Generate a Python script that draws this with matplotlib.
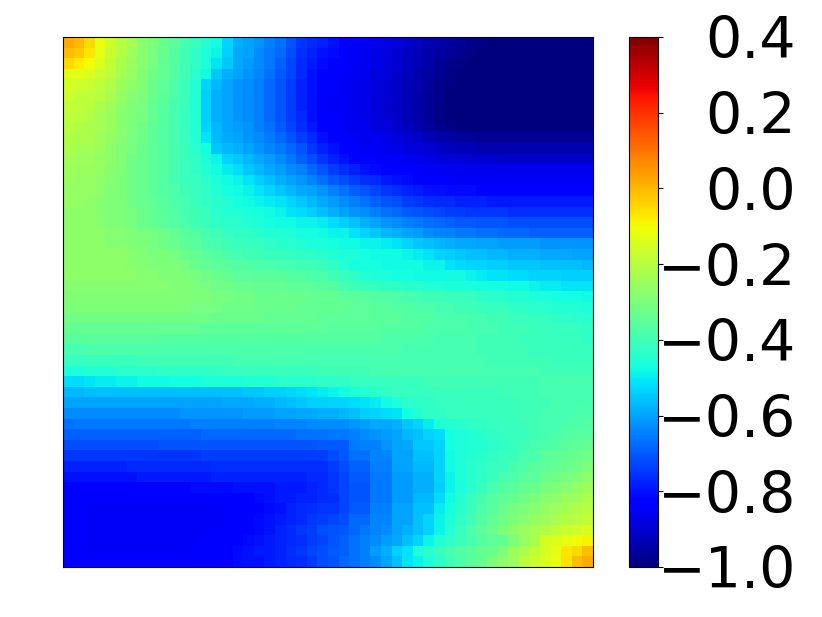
# heatmap with jet colorbar, 50x50 cells
import matplotlib
matplotlib.use("Agg")
import matplotlib.pyplot as plt
import numpy as np

# cell values, in hundredths, sign flipped (85 means -0.85)
cells = """
-2 0 5 11 16 20 23 27 30 33 36 39 42 45 48 53 58 60 62 65 67 71 75 77 78 80 82 84 85 86 87 89 90 92 94 95 96 97 98 99 100 100 100 100 100 100 100 100 100 100
1 3 7 12 17 21 24 28 31 33 37 40 43 46 49 54 59 60 63 66 68 72 76 78 80 81 83 85 86 87 88 90 91 93 95 96 97 98 99 100 100 100 100 100 100 100 100 100 100 100
5 8 10 14 18 22 25 28 31 34 37 40 43 46 51 55 59 61 63 66 69 73 77 79 81 83 84 85 86 87 89 90 92 93 95 97 98 99 100 100 100 100 100 100 100 100 100 100 100 100
13 13 14 17 19 23 26 29 32 34 37 40 44 48 55 58 60 62 64 67 70 73 77 80 82 84 85 85 86 88 89 91 92 94 96 97 99 100 100 100 100 100 100 100 100 100 100 100 100 100
15 16 17 19 21 25 27 29 33 35 38 41 45 53 57 60 62 63 65 68 71 74 78 80 83 84 85 86 87 88 90 91 93 94 96 98 99 100 100 100 100 100 100 100 100 100 100 100 100 100
16 18 19 20 22 26 28 30 33 36 38 41 45 54 58 60 62 63 65 68 71 74 78 80 83 85 85 86 87 88 90 91 93 95 97 98 100 100 100 100 100 100 100 100 100 100 100 100 100 100
18 19 20 22 24 27 29 31 34 36 39 42 45 54 58 60 62 63 65 68 71 74 78 80 83 85 85 86 87 89 90 92 93 95 97 99 100 100 100 100 100 100 100 100 100 100 100 100 100 100
19 20 21 23 25 28 30 31 34 37 39 42 45 54 58 60 62 63 65 68 71 74 77 80 83 84 85 86 87 88 90 91 93 95 97 99 100 100 100 100 100 100 100 100 100 100 100 100 100 100
20 21 22 23 25 28 30 32 35 37 39 42 45 53 57 60 61 62 65 67 70 73 76 79 82 84 85 86 86 88 89 91 92 94 96 98 99 100 100 100 100 100 100 100 100 100 100 100 100 100
21 22 22 24 26 28 31 32 35 37 39 42 45 51 57 59 60 62 63 66 68 71 74 77 80 83 84 85 86 86 87 88 90 91 93 94 95 96 96 97 97 97 97 97 97 97 97 97 97 97
22 23 23 25 27 29 31 33 35 37 39 41 44 47 55 57 58 60 62 64 66 68 71 75 78 80 83 84 85 85 86 87 88 89 90 91 92 93 93 94 94 94 94 94 94 94 94 94 94 94
23 24 24 26 27 29 32 33 35 37 39 41 43 46 49 53 55 57 59 61 63 66 69 72 75 78 80 82 83 84 85 85 86 86 87 88 89 89 90 90 90 91 91 91 91 91 91 91 91 91
24 25 25 26 28 29 32 33 35 37 39 41 43 45 48 50 52 55 57 59 61 63 65 68 71 74 76 78 80 81 82 83 84 84 85 85 86 86 86 86 86 86 86 86 86 86 86 86 86 86
25 26 26 27 28 30 32 33 35 37 39 41 42 44 46 48 49 51 54 56 58 60 62 64 67 70 72 74 76 77 79 80 81 82 83 84 84 85 85 85 85 85 85 85 85 85 85 85 85 85
26 26 26 27 29 30 32 33 35 37 38 40 42 43 45 47 48 49 51 53 55 57 59 60 62 65 67 69 71 73 75 76 78 79 80 80 81 81 81 82 82 82 82 82 82 82 82 82 82 82
26 26 27 28 29 30 32 33 34 36 38 39 41 43 44 45 47 48 49 50 51 53 55 57 59 61 63 65 67 69 71 72 74 75 76 77 77 78 78 78 79 79 79 79 79 79 79 79 79 79
27 27 27 28 29 30 31 33 34 36 37 39 40 42 44 45 45 46 47 48 49 51 52 54 56 58 60 62 63 65 67 68 70 71 72 73 74 74 75 75 75 75 76 76 76 76 76 76 76 76
27 27 27 28 29 30 31 33 34 35 37 38 40 41 43 44 44 45 46 47 48 48 49 49 50 52 54 56 58 60 62 63 65 66 67 68 69 70 70 71 71 71 72 72 72 72 72 72 72 72
27 27 27 27 28 28 29 30 31 32 34 36 37 39 40 42 43 43 44 45 45 46 47 47 48 49 49 51 53 55 57 58 60 61 63 64 65 66 66 67 67 68 68 68 69 69 69 69 69 69
27 27 27 27 28 28 29 30 31 32 33 35 36 38 39 40 41 42 42 43 44 44 45 46 46 47 48 48 49 49 50 51 53 55 56 57 58 59 59 60 60 61 61 61 61 62 62 62 62 62
27 27 27 27 27 27 28 29 30 30 31 33 34 36 37 38 39 40 40 41 41 42 43 43 44 45 46 46 47 48 48 48 49 50 51 53 54 55 56 56 57 57 58 58 58 59 59 59 60 60
27 27 27 27 27 27 28 28 29 30 30 31 33 34 35 36 37 37 38 38 39 39 40 40 41 43 45 47 47 47 48 48 48 48 49 49 51 52 53 53 54 54 55 55 55 56 56 56 56 57
27 27 27 27 27 27 27 28 28 29 29 30 31 32 33 34 35 35 36 36 36 37 37 38 38 40 42 43 45 46 46 47 47 48 48 48 48 48 49 50 51 51 52 52 53 53 53 54 54 54
28 28 28 28 28 28 28 28 28 28 29 29 30 31 32 32 33 33 34 34 34 35 35 35 36 37 39 40 41 42 43 43 44 44 45 45 46 46 46 47 47 47 48 48 49 50 50 51 51 51
29 29 29 29 29 29 29 29 29 29 29 29 30 30 31 31 32 32 33 33 33 33 33 34 34 34 35 35 36 37 37 38 39 39 40 40 41 41 42 43 44 44 45 45 46 46 47 47 47 48
30 30 30 30 30 30 30 30 30 30 30 30 31 31 31 32 32 32 33 33 33 33 34 34 34 34 34 35 35 36 36 37 37 38 38 39 39 40 40 41 42 42 43 43 44 44 45 45 45 46
32 32 32 32 32 32 32 32 32 32 32 32 32 32 33 33 33 33 33 34 34 34 34 34 35 35 35 35 35 36 36 36 37 37 37 38 38 38 39 39 40 40 41 41 42 42 43 43 44 44
34 34 34 34 34 34 34 34 34 34 34 34 34 35 35 35 35 35 35 35 35 35 35 35 35 36 36 36 36 36 37 37 37 37 38 38 38 38 39 39 39 40 40 40 41 41 42 42 42 43
36 36 36 36 36 36 36 36 36 37 37 37 37 37 37 37 37 37 37 37 37 37 37 37 37 37 37 37 37 37 38 38 38 38 38 39 39 39 39 40 40 40 40 41 41 41 42 42 42 43
39 39 38 38 38 38 38 38 38 38 38 38 38 38 38 38 38 38 38 38 38 38 38 38 38 38 38 38 38 38 38 38 39 39 39 39 39 39 39 40 40 40 40 40 41 41 41 41 42 42
42 42 41 41 41 41 41 40 40 40 40 40 40 40 40 40 39 39 39 39 39 39 39 39 39 39 39 39 39 39 39 39 39 39 39 39 39 39 39 39 40 40 40 40 40 40 41 41 41 41
46 46 45 45 45 44 44 44 44 43 43 43 43 43 43 42 42 42 42 41 41 41 41 41 40 40 40 40 40 39 39 39 39 39 39 39 39 39 39 39 39 39 39 39 39 40 40 40 40 40
52 52 51 50 50 49 49 48 48 48 47 47 47 46 46 46 46 45 45 45 44 44 44 44 43 43 43 42 42 42 42 41 41 41 40 40 40 40 40 40 40 40 40 40 40 39 39 39 39 39
57 57 56 56 56 56 56 56 56 56 56 56 56 56 56 56 56 55 55 54 54 53 52 51 50 49 48 46 45 44 43 42 42 42 42 41 41 41 41 41 41 40 40 40 40 39 39 39 39 39
60 60 60 60 60 60 60 60 60 60 60 60 60 60 60 59 59 59 58 58 57 56 55 54 54 53 53 52 51 50 48 46 44 43 43 42 42 42 41 41 41 41 41 40 40 40 39 39 39 39
63 63 63 63 63 63 63 63 63 63 63 62 62 62 62 62 62 61 61 61 60 60 59 59 58 58 57 56 54 53 52 51 47 45 43 43 42 42 42 42 41 41 41 40 40 39 39 39 38 38
67 66 66 66 66 66 66 66 66 66 66 66 65 65 65 65 65 65 65 65 64 64 64 63 63 63 63 62 61 59 59 58 55 53 50 46 45 44 43 43 42 42 41 41 40 39 39 38 38 37
69 69 69 69 69 69 69 69 69 69 69 69 69 68 68 68 68 68 68 68 68 68 67 67 67 66 66 65 63 62 61 60 57 56 53 52 47 46 45 44 43 42 42 41 40 39 38 37 36 36
72 72 72 72 72 72 72 72 72 71 71 71 71 71 71 71 71 71 71 71 71 71 71 71 70 70 70 66 65 65 62 60 59 55 55 53 47 46 45 45 44 43 42 40 39 38 37 36 35 34
75 75 75 75 75 75 75 75 75 75 75 75 75 74 74 74 74 74 74 74 74 74 74 74 74 72 70 67 67 64 64 60 60 56 56 53 48 46 45 44 43 42 41 39 38 36 35 34 33 32
78 78 78 78 78 78 77 77 77 77 77 77 77 77 76 76 76 76 76 76 76 76 76 76 76 74 72 69 69 65 65 60 60 57 57 53 48 46 44 43 42 41 39 38 36 35 34 33 32 30
80 80 80 80 80 80 80 79 79 79 79 79 79 79 78 78 78 78 78 78 78 78 78 77 77 75 73 70 70 66 66 61 61 58 58 53 49 46 44 43 41 39 38 36 35 33 32 31 29 27
82 82 83 83 83 83 82 82 82 82 82 82 81 81 81 81 80 80 80 80 79 79 79 78 77 75 73 71 71 66 66 61 61 58 58 54 49 46 44 42 39 37 36 34 33 31 29 28 26 24
83 84 84 84 84 84 84 84 84 84 83 83 83 83 83 82 82 82 81 80 79 79 78 78 77 76 73 71 71 66 66 61 61 57 57 52 48 45 42 39 37 35 34 32 30 28 27 25 24 22
83 84 85 85 85 85 85 85 85 85 85 85 85 85 85 84 84 83 82 81 80 78 77 76 75 75 73 70 70 65 65 60 60 56 56 50 47 44 41 38 36 33 31 30 28 26 24 23 21 20
83 84 85 85 85 85 85 85 85 85 85 85 85 85 85 84 83 82 81 80 79 78 77 75 74 73 72 68 68 64 64 60 60 56 53 49 46 43 40 37 34 32 30 28 26 24 22 21 20 18
83 84 85 85 85 85 85 85 85 85 85 85 85 85 84 84 83 82 81 80 78 77 75 74 72 71 70 68 66 64 63 60 58 56 53 49 45 42 38 35 33 30 27 25 23 21 19 17 16 14
83 84 85 85 85 85 85 85 85 85 85 85 85 84 84 83 82 81 80 79 78 77 76 74 73 71 69 67 65 63 61 59 56 53 49 45 43 41 39 37 35 34 30 26 22 15 14 12 10 9
83 84 85 85 85 85 85 85 85 85 85 85 84 84 83 82 81 80 79 79 78 76 75 73 72 70 69 67 65 61 58 54 51 46 44 41 39 37 36 34 33 30 25 22 18 15 12 7 5 1
83 83 83 83 83 83 83 83 83 83 83 83 83 82 82 82 81 80 80 79 78 77 76 74 72 71 68 67 65 63 60 56 51 49 46 43 40 38 36 34 30 27 24 20 17 14 11 6 1 -2
"""
bar_ticks = [-1.0, -0.8, -0.6, -0.4, -0.2, 0.0, 0.2, 0.4]

grid = np.array([[int(v) for v in row.split()] for row in cells.strip().splitlines()]) / -100.0

fig = plt.figure(figsize=(8.22, 6.17), dpi=100)
ax = fig.add_axes([63 / 822, 50 / 617, 530 / 822, 530 / 617])
im = ax.imshow(grid, cmap="jet", vmin=-1.0, vmax=0.4, aspect="auto", interpolation="nearest")
ax.set_xticks([])
ax.set_yticks([])

cax = fig.add_axes([629 / 822, 50 / 617, 29 / 822, 530 / 617])
cbar = fig.colorbar(im, cax=cax)
cbar.set_ticks(bar_ticks)
cbar.ax.tick_params(labelsize=41, pad=96)
for lab in cbar.ax.get_yticklabels():
    lab.set_ha("right")

fig.savefig("out.png", dpi=100)
